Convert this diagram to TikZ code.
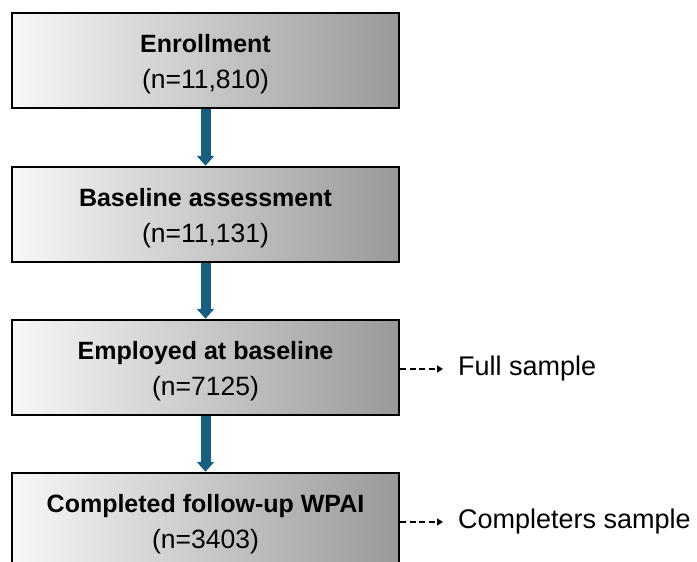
\documentclass[tikz,border=0pt]{standalone}
\usepackage{fontspec}
\setmainfont{Liberation Sans}
\usetikzlibrary{arrows.meta}
\definecolor{arrowblue}{HTML}{175E80}
\begin{document}
\begin{tikzpicture}[x=1pt,y=-1pt,
  stagebox/.style={draw=black, line width=2.5pt, left color=black!3, right color=black!40,
    minimum width=387pt, minimum height=95pt, inner sep=0pt, align=center,
    font=\fontsize{25}{36}\selectfont},
  flowarrow/.style={draw=arrowblue, line width=10pt, -{Triangle[width=17pt,length=10pt]}},
  sidearrow/.style={draw=black, line width=2pt, dash pattern=on 6pt off 3.5pt,
    -{Triangle[width=7pt,length=6pt]}, shorten >=15pt},
  sidelabel/.style={anchor=west, inner sep=0pt, font=\fontsize{27}{30}\selectfont}
]
\useasboundingbox (0,0) rectangle (697,562);
\clip (0,0) rectangle (697,562);
\fill[white] (0,0) rectangle (697,562);

\node[stagebox] (b1) at (205.5,60.5) {\rule{0pt}{26pt}\textbf{Enrollment}\\{\fontsize{26.5}{36}\selectfont (n=11,810)}};
\node[stagebox] (b2) at (205.5,214.5) {\rule{0pt}{26pt}\textbf{Baseline assessment}\\{\fontsize{26.5}{36}\selectfont (n=11,131)}};
\node[stagebox] (b3) at (205.5,367.5) {\rule{0pt}{26pt}\textbf{Employed at baseline}\\{\fontsize{26.5}{36}\selectfont (n=7125)}};
\node[stagebox] (b4) at (205.5,520.5) {\rule{0pt}{26pt}\textbf{Completed follow-up WPAI}\\{\fontsize{26.5}{36}\selectfont (n=3403)}};

\draw[flowarrow] (b1.south) -- (b2.north);
\draw[flowarrow] (b2.south) -- (b3.north);
\draw[flowarrow] (b3.south) -- (b4.north);

\node[sidelabel] (fs) at (458,369) {Full sample};
\node[sidelabel] (cs) at (458,522) {Completers sample};

\draw[sidearrow] (b3.east |- fs.west) -- (fs.west);
\draw[sidearrow] (b4.east |- cs.west) -- (cs.west);
\end{tikzpicture}
\end{document}
